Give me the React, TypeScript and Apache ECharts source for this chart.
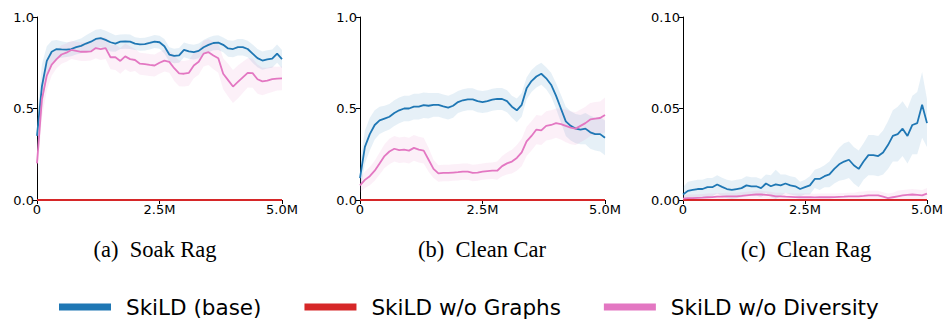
import React, { useEffect, useRef } from "react";
import * as echarts from "echarts";

// Training steps (millions), one sample every 0.1M from 0 to 5.0M
const xTicks = [0, 2.5, 5];
const xTickLabels = ["0", "2.5M", "5.0M"];

const methods = ["SkiLD (base)", "SkiLD w/o Graphs", "SkiLD w/o Diversity"];
const colors = ["#1f77b4", "#d62728", "#e377c2"];
const titles = ["(a)  Soak Rag", "(b)  Clean Car", "(c)  Clean Rag"];

// (a) Soak Rag
const soakBase = [0.35, 0.62, 0.76, 0.81, 0.825, 0.823, 0.822, 0.825, 0.835, 0.842, 0.855, 0.865, 0.88, 0.885, 0.875, 0.862, 0.855, 0.865, 0.866, 0.865, 0.855, 0.85, 0.852, 0.858, 0.866, 0.862, 0.84, 0.795, 0.787, 0.79, 0.82, 0.812, 0.808, 0.815, 0.835, 0.848, 0.858, 0.86, 0.848, 0.828, 0.825, 0.835, 0.835, 0.825, 0.8, 0.775, 0.762, 0.768, 0.772, 0.8, 0.77];
const soakBaseBand = [0.1, 0.12, 0.08, 0.06, 0.05, 0.045, 0.04, 0.04, 0.04, 0.04, 0.045, 0.05, 0.05, 0.05, 0.05, 0.05, 0.045, 0.04, 0.04, 0.04, 0.035, 0.035, 0.035, 0.035, 0.035, 0.035, 0.04, 0.04, 0.04, 0.04, 0.04, 0.04, 0.04, 0.04, 0.04, 0.04, 0.04, 0.04, 0.04, 0.045, 0.045, 0.045, 0.045, 0.045, 0.05, 0.05, 0.05, 0.05, 0.05, 0.05, 0.05];
const soakGraphs = [0, 0, 0, 0, 0, 0, 0, 0, 0, 0, 0, 0, 0, 0, 0, 0, 0, 0, 0, 0, 0, 0, 0, 0, 0, 0, 0, 0, 0, 0, 0, 0, 0, 0, 0, 0, 0, 0, 0, 0, 0, 0, 0, 0, 0, 0, 0, 0, 0, 0, 0];
const soakDiversity = [0.2, 0.55, 0.68, 0.74, 0.77, 0.795, 0.805, 0.82, 0.815, 0.81, 0.81, 0.812, 0.83, 0.825, 0.83, 0.78, 0.78, 0.76, 0.785, 0.77, 0.765, 0.745, 0.742, 0.738, 0.735, 0.75, 0.762, 0.755, 0.72, 0.692, 0.69, 0.695, 0.735, 0.755, 0.8, 0.808, 0.79, 0.775, 0.69, 0.655, 0.62, 0.645, 0.67, 0.695, 0.693, 0.66, 0.648, 0.652, 0.66, 0.663, 0.665];
const soakDiversityBand = [0.08, 0.1, 0.08, 0.06, 0.05, 0.05, 0.05, 0.05, 0.05, 0.05, 0.05, 0.05, 0.055, 0.06, 0.06, 0.065, 0.07, 0.07, 0.07, 0.07, 0.06, 0.06, 0.06, 0.06, 0.06, 0.06, 0.06, 0.06, 0.07, 0.07, 0.07, 0.07, 0.07, 0.07, 0.07, 0.07, 0.075, 0.08, 0.085, 0.09, 0.09, 0.09, 0.085, 0.08, 0.08, 0.08, 0.075, 0.07, 0.07, 0.065, 0.065];

// (b) Clean Car
const carBase = [0.12, 0.29, 0.36, 0.41, 0.435, 0.445, 0.455, 0.475, 0.49, 0.5, 0.5, 0.51, 0.51, 0.518, 0.515, 0.52, 0.52, 0.512, 0.505, 0.515, 0.535, 0.545, 0.55, 0.55, 0.54, 0.535, 0.54, 0.548, 0.552, 0.552, 0.54, 0.51, 0.49, 0.52, 0.61, 0.65, 0.675, 0.69, 0.665, 0.63, 0.57, 0.5, 0.43, 0.405, 0.39, 0.385, 0.39, 0.37, 0.36, 0.36, 0.34];
const carBaseBand = [0.08, 0.09, 0.09, 0.08, 0.075, 0.07, 0.07, 0.07, 0.07, 0.07, 0.07, 0.07, 0.07, 0.07, 0.07, 0.065, 0.065, 0.065, 0.065, 0.065, 0.06, 0.06, 0.06, 0.06, 0.06, 0.06, 0.06, 0.06, 0.06, 0.06, 0.06, 0.06, 0.065, 0.065, 0.06, 0.06, 0.06, 0.06, 0.06, 0.065, 0.07, 0.075, 0.08, 0.08, 0.08, 0.08, 0.085, 0.09, 0.09, 0.095, 0.095];
const carGraphs = [0, 0, 0, 0, 0, 0, 0, 0, 0, 0, 0, 0, 0, 0, 0, 0, 0, 0, 0, 0, 0, 0, 0, 0, 0, 0, 0, 0, 0, 0, 0, 0, 0, 0, 0, 0, 0, 0, 0, 0, 0, 0, 0, 0, 0, 0, 0, 0, 0, 0, 0];
const carDiversity = [0.08, 0.11, 0.13, 0.16, 0.2, 0.24, 0.265, 0.28, 0.272, 0.275, 0.27, 0.285, 0.275, 0.27, 0.22, 0.17, 0.145, 0.148, 0.148, 0.15, 0.152, 0.155, 0.155, 0.148, 0.15, 0.155, 0.158, 0.16, 0.16, 0.185, 0.2, 0.21, 0.23, 0.26, 0.32, 0.35, 0.385, 0.38, 0.405, 0.41, 0.42, 0.415, 0.405, 0.395, 0.39, 0.405, 0.42, 0.44, 0.445, 0.448, 0.465];
const carDiversityBand = [0.04, 0.045, 0.05, 0.055, 0.06, 0.065, 0.07, 0.07, 0.07, 0.07, 0.07, 0.07, 0.07, 0.07, 0.065, 0.05, 0.045, 0.045, 0.045, 0.045, 0.045, 0.045, 0.045, 0.045, 0.045, 0.045, 0.045, 0.045, 0.05, 0.055, 0.06, 0.065, 0.07, 0.075, 0.08, 0.08, 0.08, 0.08, 0.08, 0.08, 0.08, 0.085, 0.09, 0.09, 0.09, 0.09, 0.09, 0.09, 0.09, 0.09, 0.095];

// (c) Clean Rag
const ragBase = [0.003, 0.005, 0.0055, 0.006, 0.006, 0.007, 0.007, 0.0085, 0.0072, 0.006, 0.0055, 0.006, 0.0065, 0.008, 0.0075, 0.0075, 0.0065, 0.009, 0.0075, 0.0085, 0.008, 0.009, 0.008, 0.0075, 0.006, 0.007, 0.008, 0.0115, 0.0115, 0.013, 0.014, 0.017, 0.0195, 0.021, 0.022, 0.019, 0.017, 0.021, 0.0245, 0.0245, 0.024, 0.026, 0.03, 0.035, 0.036, 0.039, 0.035, 0.041, 0.042, 0.052, 0.042];
const ragBaseBand = [0.004, 0.005, 0.005, 0.005, 0.005, 0.005, 0.005, 0.005, 0.005, 0.005, 0.005, 0.005, 0.005, 0.005, 0.005, 0.005, 0.005, 0.005, 0.006, 0.008, 0.006, 0.005, 0.005, 0.005, 0.004, 0.004, 0.005, 0.005, 0.006, 0.006, 0.007, 0.008, 0.009, 0.01, 0.01, 0.01, 0.01, 0.01, 0.011, 0.011, 0.011, 0.012, 0.013, 0.014, 0.015, 0.015, 0.015, 0.016, 0.017, 0.018, 0.013];
const ragGraphs = [0, 0, 0, 0, 0, 0, 0, 0, 0, 0, 0, 0, 0, 0, 0, 0, 0, 0, 0, 0, 0, 0, 0, 0, 0, 0, 0, 0, 0, 0, 0, 0, 0, 0, 0, 0, 0, 0, 0, 0, 0, 0, 0, 0, 0, 0, 0, 0, 0, 0, 0];
const ragDiversity = [0.0008, 0.001, 0.001, 0.0012, 0.0013, 0.0015, 0.0016, 0.0018, 0.0018, 0.002, 0.002, 0.002, 0.0022, 0.0025, 0.0028, 0.003, 0.003, 0.0028, 0.0025, 0.002, 0.002, 0.0018, 0.0017, 0.0016, 0.0015, 0.0015, 0.0015, 0.0014, 0.0015, 0.0015, 0.0015, 0.0016, 0.0017, 0.0018, 0.002, 0.002, 0.002, 0.0022, 0.0025, 0.0025, 0.0025, 0.0018, 0.001, 0.0015, 0.002, 0.0025, 0.0028, 0.003, 0.0028, 0.0025, 0.0035];
const ragDiversityBand = [0.002, 0.002, 0.002, 0.002, 0.002, 0.002, 0.002, 0.002, 0.002, 0.002, 0.002, 0.002, 0.002, 0.002, 0.002, 0.002, 0.002, 0.002, 0.002, 0.002, 0.002, 0.002, 0.002, 0.002, 0.002, 0.002, 0.002, 0.002, 0.002, 0.002, 0.002, 0.002, 0.002, 0.002, 0.002, 0.002, 0.0025, 0.0025, 0.0025, 0.0025, 0.0025, 0.0025, 0.0025, 0.0025, 0.003, 0.003, 0.003, 0.003, 0.003, 0.003, 0.003];

const panels = [
  { values: [soakBase, soakGraphs, soakDiversity], bands: [soakBaseBand, null, soakDiversityBand], yMax: 1, yInterval: 0.5, digits: 1 },
  { values: [carBase, carGraphs, carDiversity], bands: [carBaseBand, null, carDiversityBand], yMax: 1, yInterval: 0.5, digits: 1 },
  { values: [ragBase, ragGraphs, ragDiversity], bands: [ragBaseBand, null, ragDiversityBand], yMax: 0.1, yInterval: 0.05, digits: 2 },
];

const gridBoxes = [
  { left: 37, width: 245 },
  { left: 360, width: 245 },
  { left: 683, width: 244 },
];
const titleCenters = [155, 482, 806];

const stepAt = (i: number) => Math.round(i * 100) / 1000;

function hexToRgba(hex: string, a: number) {
  const n = parseInt(hex.slice(1), 16);
  return `rgba(${(n >> 16) & 255},${(n >> 8) & 255},${n & 255},${a})`;
}

function buildOption() {
  const grid: any[] = [];
  const xAxis: any[] = [];
  const yAxis: any[] = [];
  const series: any[] = [];
  const graphic: any[] = [];

  panels.forEach((p, pi) => {
    grid.push({ left: gridBoxes[pi].left, width: gridBoxes[pi].width, top: 17, height: 183, containLabel: false });
    xAxis.push({
      type: "value",
      gridIndex: pi,
      min: 0,
      max: 5,
      interval: 2.5,
      axisLine: { show: true, lineStyle: { color: "#000", width: 1 } },
      axisTick: { show: true, length: 4, lineStyle: { color: "#000" } },
      splitLine: { show: false },
      axisLabel: {
        color: "#000",
        fontFamily: "DejaVu Sans",
        fontSize: 13,
        margin: 3,
        formatter: (v: number) => {
          const k = xTicks.findIndex((t) => Math.abs(t - v) < 1e-9);
          return k >= 0 ? xTickLabels[k] : "";
        },
      },
    });
    yAxis.push({
      type: "value",
      gridIndex: pi,
      min: 0,
      max: p.yMax,
      interval: p.yInterval,
      axisLine: { show: true, lineStyle: { color: "#000", width: 1 } },
      axisTick: { show: true, length: 4, lineStyle: { color: "#000" } },
      splitLine: { show: false },
      axisLabel: {
        color: "#000",
        fontFamily: "DejaVu Sans",
        fontSize: 13,
        margin: 3,
        formatter: (v: number) => v.toFixed(p.digits),
      },
    });

    // confidence bands, drawn as one polygon each through the axes' scales
    p.values.forEach((vals, mi) => {
      const band = p.bands[mi];
      if (!band) return;
      const rows = vals.map((v, i) => [stepAt(i), Math.max(0, v - band[i]), v + band[i]]);
      const fill = hexToRgba(colors[mi], 0.11);
      series.push({
        type: "custom",
        name: `_band${pi}${mi}`,
        xAxisIndex: pi,
        yAxisIndex: pi,
        data: rows,
        encode: { x: 0, y: [1, 2] },
        silent: true,
        clip: true,
        z: 1,
        renderItem: (params: any, api: any) => {
          if (params.dataIndex !== 0) return null;
          const pts: number[][] = [];
          for (let i = 0; i < rows.length; i++) pts.push(api.coord([rows[i][0], rows[i][2]]));
          for (let i = rows.length - 1; i >= 0; i--) pts.push(api.coord([rows[i][0], rows[i][1]]));
          return { type: "polygon", shape: { points: pts }, style: { fill, stroke: "none" } };
        },
      });
    });

    // mean lines
    p.values.forEach((vals, mi) => {
      series.push({
        type: "line",
        name: methods[mi],
        xAxisIndex: pi,
        yAxisIndex: pi,
        data: vals.map((v, i) => [stepAt(i), v]),
        symbol: "none",
        color: colors[mi],
        lineStyle: { width: 1.8, color: colors[mi] },
        z: 3,
      });
    });

    graphic.push({
      type: "text",
      x: titleCenters[pi],
      y: 249,
      style: {
        text: titles[pi],
        font: '22.5px "Liberation Serif"',
        fill: "#000",
        align: "center",
        verticalAlign: "middle",
      },
    });
  });

  return {
    animation: false,
    backgroundColor: "#fff",
    grid,
    xAxis,
    yAxis,
    series,
    graphic,
    legend: {
      left: 59,
      top: 296,
      padding: 0,
      itemWidth: 52,
      itemHeight: 7,
      itemGap: 43,
      icon: "rect",
      selectedMode: false,
      data: methods.map((m, i) => ({ name: m, itemStyle: { color: colors[i] } })),
      textStyle: {
        fontFamily: "DejaVu Sans",
        fontSize: 21.5,
        color: "#000",
        padding: [0, 0, 0, 10],
      },
    },
  };
}

export default function App() {
  const ref = useRef<HTMLDivElement>(null);
  useEffect(() => {
    if (!ref.current) return;
    const chart = echarts.init(ref.current, undefined, { renderer: "svg" });
    chart.setOption(buildOption() as any);
    return () => chart.dispose();
  }, []);
  return (
    <div
      ref={ref}
      style={{ position: "absolute", left: 0, top: 0, width: 948, height: 320, background: "#fff" }}
    />
  );
}
